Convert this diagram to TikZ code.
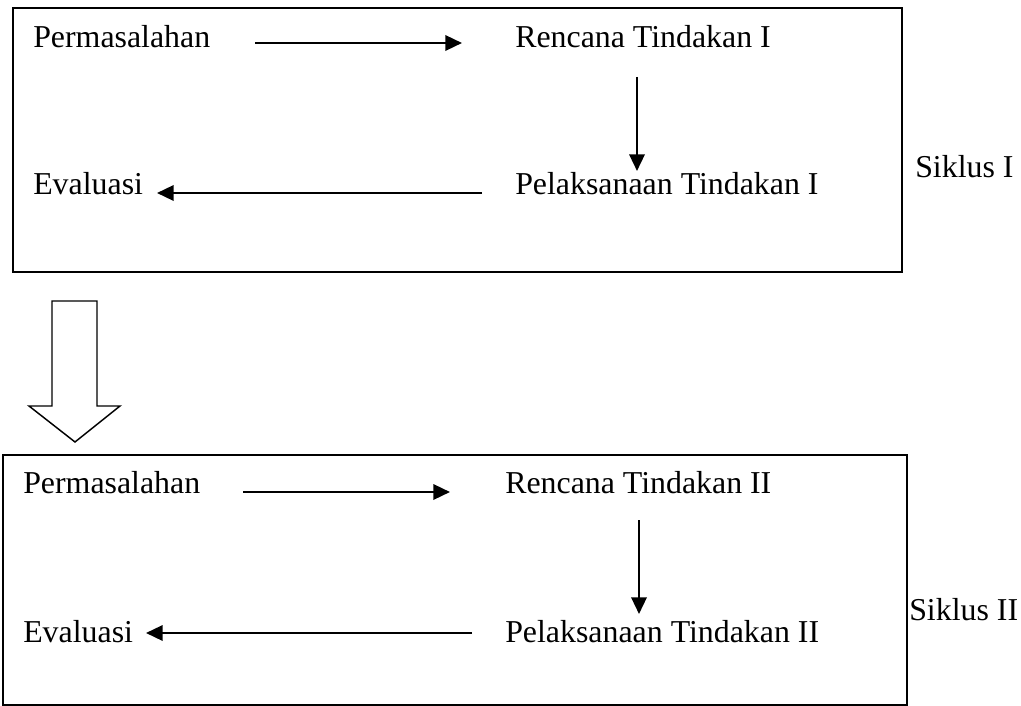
\documentclass[tikz,border=0pt]{standalone}
\usepackage{fontspec}
\setmainfont{Liberation Serif}
\usetikzlibrary{arrows.meta}
\begin{document}
\begin{tikzpicture}[x=0.75pt,y=-0.75pt,
  lbl/.style={anchor=base west,inner sep=0pt,font=\fontsize{23.9}{28}\selectfont},
  frame/.style={draw,line width=1.6pt},
  arr/.style={line width=1.8pt,-{Triangle[length=12.5pt,width=11.5pt]}},
  blockarrow/.style={draw,line width=1.1pt,line join=miter}]
\useasboundingbox (0,0) rectangle (1021,706);
% top cycle
\draw[frame] (13,8) rectangle (902,272);
\node[lbl] (p1) at (33,48) {Permasalahan};
\node[lbl] (r1) at (515,48) {Rencana Tindakan I};
\node[lbl] (k1) at (515,195) {Pelaksanaan Tindakan I};
\node[lbl] (e1) at (33,195) {Evaluasi};
\node[lbl] (s1) at (915,178) {Siklus I};
\coordinate (a1s) at (255,43); \coordinate (a1e) at (462,43);
\coordinate (b1s) at (637,77); \coordinate (b1e) at (637,171);
\coordinate (c1s) at (482,193); \coordinate (c1e) at (157,193);
\draw[arr] (a1s) -- (a1e);
\draw[arr] (b1s) -- (b1e);
\draw[arr] (c1s) -- (c1e);
% block arrow
\draw[blockarrow] (52,301) -- (97,301) -- (97,406) -- (120,406) -- (75,442)
  -- (29,406) -- (52,406) -- cycle;
% bottom cycle
\draw[frame] (3,455) rectangle (907,705);
\node[lbl] (p2) at (23,493) {Permasalahan};
\node[lbl] (r2) at (505,493) {Rencana Tindakan II};
\node[lbl] (k2) at (505,642) {Pelaksanaan Tindakan II};
\node[lbl] (e2) at (23,642) {Evaluasi};
\node[lbl] (s2) at (909,620) {Siklus II};
\coordinate (a2s) at (243,492); \coordinate (a2e) at (450,492);
\coordinate (b2s) at (639,520); \coordinate (b2e) at (639,614);
\coordinate (c2s) at (472,633); \coordinate (c2e) at (146,633);
\draw[arr] (a2s) -- (a2e);
\draw[arr] (b2s) -- (b2e);
\draw[arr] (c2s) -- (c2e);
\end{tikzpicture}
\end{document}
